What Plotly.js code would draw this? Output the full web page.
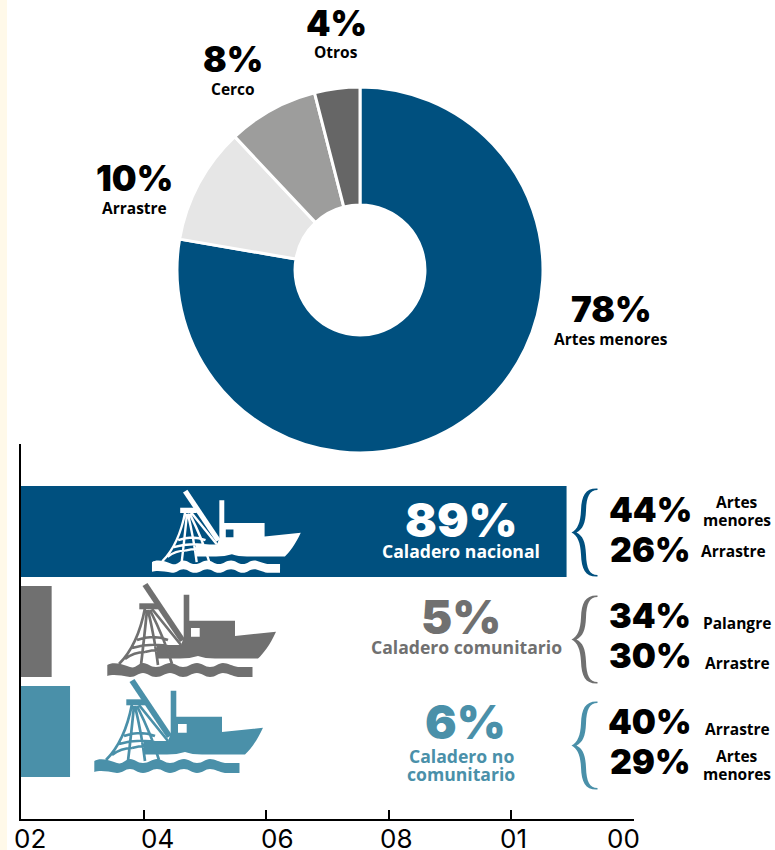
<!DOCTYPE html>
<html><head><meta charset="utf-8">
<script src="https://cdn.plot.ly/plotly-3.0.1.min.js"></script>
<style>html,body{margin:0;padding:0;background:#fff}#c{width:775px;height:850px}</style>
</head><body><div id="c"></div>
<script>
// ---- data ----
var gearNames = ["Artes menores","Arrastre","Cerco","Otros"];
var gearShares = [77.7,10.3,8,4];
var gearColors = ["#00507f","#e6e6e6","#9d9d9c","#666666"];
var fishingGrounds = ["Caladero nacional","Caladero comunitario","Caladero no comunitario"];
var groundBars = [89,5,8];
var groundColors = ["#00507f","#707070","#4a90a9"];
var axisTicks = [0,20,40,60,80,100];
var axisLabels = ["02","04","06","08","01","00"];

// ---- page geometry helpers (pixels -> paper) ----
var W=775,H=850;
function px(x){return x/W;} function py(y){return 1-y/H;}
function toPaper(path,ox,oy,s,x0,y0){
  return path.replace(/(-?[\d.]+),(-?[\d.]+)/g,function(m,a,b){
    return px(ox+(+a-x0)*s).toFixed(5)+","+py(oy+(+b-y0)*s).toFixed(5);
  });
}
// ---- boat pictogram outlines ----
var hull="M183.7,594.7 L189.3,594.7 L189.3,620.7 L235,620.7 L235,636 L276,631.7 C270,645 263,654 258,658.5 L215,658.5 Q205,658.5 198,656 Q190,658.5 180,658.5 L157,658.5 L157,645 L181,645 L183.7,638 Z M191,628 L199.7,628 L199.7,636.7 L191,636.7 Z";
var boom="M142.5,586 L147.5,583 L185,639 L180,642 Z";
var bar="M139.3,603.3 L158,603.3 L158,609.3 L139.3,609.3 Z";
var wave="M107.3,665 C112,662 120,663 130,667 C136,669 138,663 143,663 C148,663 150,667 156,667 C162,667 165,663 170,663 C175,663 178,667 183,667 C189,667 191,663 197,663 C202,663 205,667 210,667 C216,667 218,663 223,663 C228,663 232,666 238,667 L252.5,667 L252.5,677 L238,677 C232,676 228,673 223,673 C218,673 216,677 210,677 C205,677 202,673 197,673 C191,673 189,677 183,677 C178,677 175,673 170,673 C165,673 162,677 156,677 C150,677 148,673 143,673 C138,673 136,677 130,677 C120,675 112,674 107.3,676 Z";
var net="M145,608 Q138,645 119,664 M147,610 Q144,640 141,665 M148,610 Q155,640 158,665 M150,610 Q165,640 172,664 M152,609 L181,645 M137,640 Q153,634 168,640 M132,648 Q152,642 172,647 M125,659 Q134,652 145,652 M145,652 Q152,650 158,650";
var brace="M26,-44 C14,-44.5 10,-37 9.5,-22 C9,-10 6,-3 0,0 C6,3 9,10 9.5,22 C10,37 14,44.5 26,44 L26,42.5 C18,42.5 15,36 14.5,22 C14,9 11,3 5,0 C11,-3 14,-9 14.5,-22 C15,-36 18,-42.5 26,-42.5 Z";

var shapes=[{type:"rect",xref:"paper",yref:"paper",x0:0,x1:px(7),y0:0,y1:1,fillcolor:"#fff9e9",line:{width:0},layer:"below"}];
function addBoat(color,ox,oy,s){
  [hull,boom,bar,wave].forEach(function(p){
    shapes.push({type:"path",xref:"paper",yref:"paper",path:toPaper(p,ox,oy,s,107,584),fillcolor:color,fillrule:"evenodd",line:{width:0},layer:"above"});
  });
  shapes.push({type:"path",xref:"paper",yref:"paper",path:toPaper(net,ox,oy,s,107,584),fillcolor:"rgba(0,0,0,0)",line:{color:color,width:2.7*s},layer:"above"});
}
addBoat("#ffffff",151.7,490.7,0.882);
addBoat(groundColors[1],107,584,1);
addBoat(groundColors[2],94,680,1);
function addBrace(color,mid){
  shapes.push({type:"path",xref:"paper",yref:"paper",path:toPaper(brace,571.5,mid,1,0,0),fillcolor:color,line:{width:0},layer:"above"});
}
addBrace(groundColors[0],532.5);
addBrace(groundColors[1],639.5);
addBrace(groundColors[2],745.5);

// ---- text ----
var FONT="Inter, sans-serif", FONT2="'Open Sans', sans-serif";
var annotations=[];
function txt(t,x,y,size,color,weight,fam,h){
  var a={text:t,xref:"paper",yref:"paper",x:px(x),y:py(y),xanchor:"center",yanchor:"middle",showarrow:false,
    font:{family:fam||FONT2,size:size,color:color||"#000",weight:weight||700}};
  if(h){a.height=h;}
  annotations.push(a);
}
var big=900, K="#000", S=15.5, M=17.6;
function pct(t,x,y,size,c){txt(t,x,y,size,c||K,big,FONT);}
pct("4%",336,23,35); txt("Otros",336,52,S,K);
pct("8%",233,59,35); txt("Cerco",233,89,S,K);
pct("10%",134,178,35); txt("Arrastre",134,208,S,K);
pct("78%",611,309,35); txt("Artes menores",611,339,S,K);
pct("89%",461,519,47,"#fff"); txt("Caladero nacional",461,551,M,"#fff");
pct("5%",461,616,47,groundColors[1]); txt("Caladero comunitario",466,647,M,groundColors[1]);
pct("6%",465,721,47,groundColors[2]); txt("Caladero no",461,756,M,groundColors[2]); txt("comunitario",461,774,M,groundColors[2]);
pct("44%",650,509,34); txt("Artes",737,502,S,K); txt("menores",737,520,S,K);
pct("26%",650,549,34); txt("Arrastre",733,551,S,K);
pct("34%",650,615,34); txt("Palangre",737,623,S,K);
pct("30%",650,655,34); txt("Arrastre",737,663,S,K);
pct("40%",650,721,34); txt("Arrastre",737,729,S,K);
pct("29%",650,761,34); txt("Artes",737,756,S,K); txt("menores",737,774,S,K);
var labelX=[30,157,277,396,513,623];
axisLabels.forEach(function(l,i){txt(l,labelX[i],838,26,"#000",400,FONT,22);});

// ---- traces ----
var pie={type:"pie",labels:gearNames,values:gearShares,sort:false,direction:"clockwise",rotation:0,hole:0.355,
  marker:{colors:gearColors,line:{color:"#fff",width:3}},textinfo:"none",showlegend:false,
  domain:{x:[px(177),px(543)],y:[py(453),py(87)]}};
var bars={type:"bar",orientation:"h",y:fishingGrounds,x:groundBars,marker:{color:groundColors,line:{width:0}},showlegend:false,xaxis:"x",yaxis:"y"};

var layout={width:W,height:H,margin:{l:0,r:0,t:0,b:0},paper_bgcolor:"#fff",plot_bgcolor:"rgba(0,0,0,0)",showlegend:false,bargap:0.09,
  xaxis:{domain:[px(21),px(634)],range:[0,100],tickmode:"array",tickvals:axisTicks,showticklabels:false,ticks:"inside",ticklen:9,tickwidth:2,tickcolor:"#000",
    showline:true,linecolor:"#000",linewidth:2,showgrid:false,zeroline:false},
  yaxis:{domain:[py(819),py(444)],range:[2.875,-0.875],type:"category",categoryorder:"array",categoryarray:fishingGrounds,showticklabels:false,ticks:"",
    showline:true,linecolor:"#000",linewidth:2,showgrid:false,zeroline:false},
  shapes:shapes,annotations:annotations};
Plotly.newPlot("c",[bars,pie],layout,{staticPlot:true,displayModeBar:false});
</script></body></html>
